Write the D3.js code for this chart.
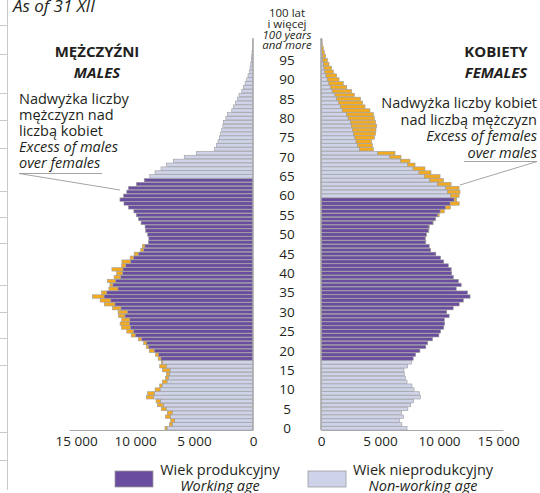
<!DOCTYPE html>
<html>
<head>
<meta charset="utf-8">
<script src="https://cdn.jsdelivr.net/npm/d3@7"></script>
<style>
  body { margin: 0; background: #fff; }
  svg { display: block; font-family: "Open Sans", sans-serif; }
</style>
</head>
<body>
<div id="chart"></div>
<script>
// ages 0..100 (100 = 100 years and more)
const ages = d3.range(0, 101);

const males = [
  7460, 7080, 6990, 7420, 7270, 7780, 8110, 8220, 9040, 8930,
  8300, 7910, 7690, 7430, 7340, 7680, 7910, 7780, 8040, 8250,
  8800, 9050, 9270, 9730, 10330, 10700, 11160, 11270, 11130, 11400,
  11440, 11910, 12610, 12960, 13620, 12840, 12220, 12130, 12350, 11780,
  11560, 11960, 11130, 11110, 10420, 10070, 9520, 9370, 8860, 8830,
  8930, 9100, 9150, 9490, 9700, 9900, 10100, 10560, 10940, 11280,
  10980, 10700, 10560, 9880, 9220, 8750, 8300, 7800, 7340, 6750,
  5830, 4810, 3260, 3100, 2970, 2860, 2760, 2650, 2560, 2510,
  2300, 2150, 1800, 1660, 1490, 1330, 1190, 950, 810, 670,
  530, 420, 320, 250, 190, 150, 110, 80, 55, 40,
  30
];

const females = [
  7290, 6850, 6650, 7000, 6820, 7360, 7600, 7850, 8420, 8360,
  7880, 7710, 7290, 7150, 7060, 7030, 7345, 7670, 7810, 8020,
  8380, 8880, 9040, 9450, 9990, 10140, 10400, 10480, 10450, 10860,
  10650, 11200, 11710, 12060, 12630, 12415, 11455, 11880, 11640, 11215,
  11075, 11030, 10790, 10400, 10140, 9730, 9295, 9170, 8885, 8840,
  8955, 9140, 9170, 9500, 9720, 10015, 10440, 10960, 11710, 11500,
  11700, 11780, 11700, 11020, 10370, 10085, 9320, 8810, 7970, 7540,
  6780, 6270, 4440, 4350, 4290, 4520, 4630, 4660, 4720, 4630,
  4520, 4440, 4150, 3730, 3530, 3360, 2830, 2600, 2180, 1890,
  1530, 1330, 1050, 900, 680, 540, 400, 280, 200, 130,
  100
];

// working age ranges
const maleWorking = [18, 64];
const femaleWorking = [18, 59];

const xTicks = [0, 5000, 10000, 15000];
const ageTicks = d3.range(0, 100, 5);
const topLabel = ["100 lat", "i więcej", "100 years", "and more"];

const width = 540, height = 493;

const svg = d3.select("#chart").append("svg")
    .attr("width", width)
    .attr("height", height);

const colWork = "#6a4d9e",
    colNon = "#ced3ea",
    colExcess = "#f4aa1e",
    colStroke = "#9c9c9c",
    colText = "#231f20";

// scales
let xM = d3.scaleLinear().domain([0, 15600]).range([253, 69]);
let xF = d3.scaleLinear().domain([0, 15420]).range([321, 503]);
let y = d3.scaleBand().domain(ages).range([430, 39]).paddingInner(0.12);

// cut-off frame of the neighbouring table on the left edge
svg.append("line")
    .attr("x1", 7.5).attr("x2", 7.5).attr("y1", 0).attr("y2", 490)
    .attr("stroke", "#c9c9c9").attr("stroke-width", 1);
[25, 54, 93, 120, 148, 191, 217, 243, 285, 312, 338, 365, 432, 460].forEach(t => {
    svg.append("line")
        .attr("x1", 0).attr("x2", 7).attr("y1", t + 0.5).attr("y2", t + 0.5)
        .attr("stroke", "#c9c9c9");
});

svg.append("text")
    .attr("x", 13).attr("y", 12)
    .style("font-style", "italic")
    .style("font-size", "17px")
    .attr("fill", colText)
    .text("As of 31 XII");

// bars
function drawSide(values, other, x, working) {
    let g = svg.append("g");
    ages.forEach(a => {
        let v = values[a], base = Math.min(v, other[a]);
        let isWork = a >= working[0] && a <= working[1];
        g.append("rect")
            .attr("x", Math.min(x(0), x(base)))
            .attr("y", y(a))
            .attr("width", Math.abs(x(base) - x(0)))
            .attr("height", y.bandwidth())
            .attr("fill", isWork ? colWork : colNon)
            .attr("stroke", colStroke)
            .attr("stroke-width", 0.6);
        if (v > base) {
            g.append("rect")
                .attr("x", Math.min(x(base), x(v)))
                .attr("y", y(a))
                .attr("width", Math.abs(x(v) - x(base)))
                .attr("height", y.bandwidth())
                .attr("fill", colExcess)
                .attr("stroke", colStroke)
                .attr("stroke-width", 0.6);
        }
    });
}
drawSide(males, females, xM, maleWorking);
drawSide(females, males, xF, femaleWorking);

// vertical zero lines
[253, 321].forEach(px => {
    svg.append("line")
        .attr("x1", px).attr("x2", px).attr("y1", 38).attr("y2", 430)
        .attr("stroke", "#a8a8a8").attr("stroke-width", 1.4);
});

// x axes
let fmt = d => d3.format(",")(d).replace(/,/g, " ");
[xM, xF].forEach(sc => {
    let ax = svg.append("g")
        .attr("transform", "translate(0,430)")
        .call(d3.axisBottom(sc).tickValues(xTicks).tickFormat(fmt).tickSize(0).tickPadding(6));
    ax.select(".domain").attr("stroke", "#a8a8a8").attr("stroke-width", 1.2);
    ax.selectAll("text")
        .style("font-family", "Open Sans")
        .style("font-size", "13.5px")
        .attr("fill", colText);
});

// age labels
svg.selectAll(".age")
    .data(ageTicks)
    .enter()
    .append("text")
    .attr("x", 287)
    .attr("y", d => y(d) + y.bandwidth() / 2)
    .attr("dy", "0.35em")
    .attr("text-anchor", "middle")
    .style("font-size", "13.5px")
    .attr("fill", colText)
    .text(d => d);

topLabel.forEach((t, i) => {
    svg.append("text")
        .attr("x", 287)
        .attr("y", 17 + i * 10.8)
        .attr("text-anchor", "middle")
        .style("font-size", "11.5px")
        .style("font-style", i >= 2 ? "italic" : "normal")
        .attr("fill", colText)
        .text(t);
});

// side titles
let titles = [
    { x: 97, t1: "MĘŻCZYŹNI", t2: "MALES" },
    { x: 496, t1: "KOBIETY", t2: "FEMALES" }
];
titles.forEach(d => {
    svg.append("text").attr("x", d.x).attr("y", 57).attr("text-anchor", "middle")
        .style("font-size", "15px").style("font-weight", "bold").attr("fill", colText)
        .text(d.t1);
    svg.append("text").attr("x", d.x).attr("y", 78).attr("text-anchor", "middle")
        .style("font-size", "15px").style("font-weight", "bold").style("font-style", "italic")
        .attr("fill", colText).text(d.t2);
});

// annotations
let leftNote = [["Nadwyżka liczby", false], ["mężczyzn nad", false], ["liczbą kobiet", false],
    ["Excess of males", true], ["over females", true]];
leftNote.forEach((d, i) => {
    svg.append("text").attr("x", 19).attr("y", 104 + i * 16)
        .style("font-size", "14.5px").style("font-style", d[1] ? "italic" : "normal")
        .attr("fill", colText).text(d[0]);
});
let rightNote = [["Nadwyżka liczby kobiet", false], ["nad liczbą mężczyzn", false],
    ["Excess of females", true], ["over males", true]];
rightNote.forEach((d, i) => {
    svg.append("text").attr("x", 537).attr("y", 108 + i * 16.5).attr("text-anchor", "end")
        .style("font-size", "14.5px").style("font-style", d[1] ? "italic" : "normal")
        .attr("fill", colText).text(d[0]);
});

svg.append("polyline")
    .attr("points", "102,173.5 19,173.5 120,190")
    .attr("fill", "none").attr("stroke", "#9a9a9a").attr("stroke-width", 0.9);
svg.append("polyline")
    .attr("points", "464,161.5 537,161.5 460,185")
    .attr("fill", "none").attr("stroke", "#9a9a9a").attr("stroke-width", 0.9);

// legend
let legend = [
    { fill: colWork, x: 115, cx: 220, pl: "Wiek produkcyjny", en: "Working age" },
    { fill: colNon, x: 308, cx: 423, pl: "Wiek nieprodukcyjny", en: "Non-working age" }
];
legend.forEach(d => {
    svg.append("rect").attr("x", d.x).attr("y", 471).attr("width", 38).attr("height", 16)
        .attr("fill", d.fill).attr("stroke", colStroke).attr("stroke-width", 0.8);
    svg.append("text").attr("x", d.cx).attr("y", 475).attr("text-anchor", "middle")
        .style("font-size", "14.5px").attr("fill", colText).text(d.pl);
    svg.append("text").attr("x", d.cx).attr("y", 491).attr("text-anchor", "middle")
        .style("font-size", "14.5px").style("font-style", "italic").attr("fill", colText).text(d.en);
});
</script>
</body>
</html>
